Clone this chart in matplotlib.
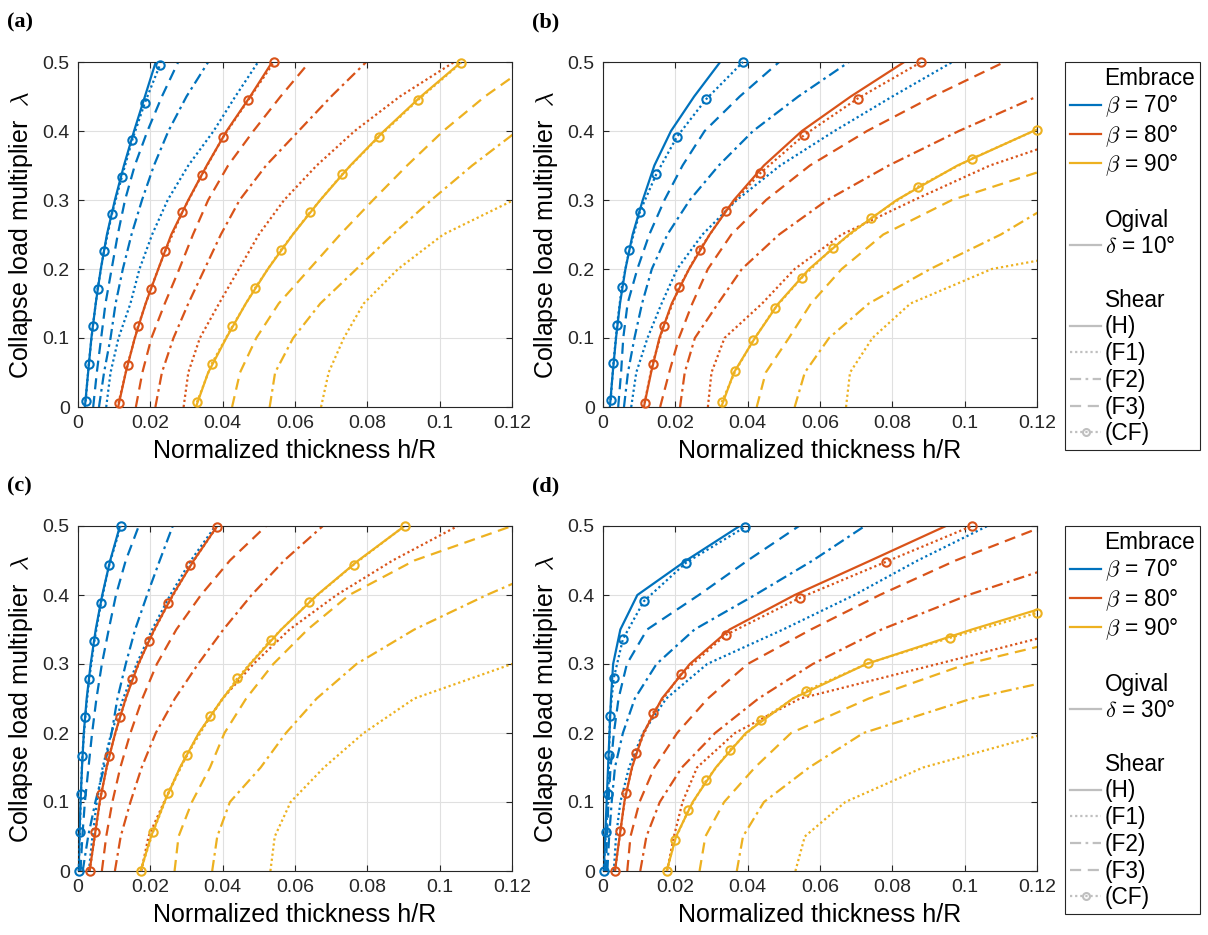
import numpy as np
import matplotlib
matplotlib.use("Agg")
import matplotlib.pyplot as plt
from matplotlib.lines import Line2D

plt.rcParams['font.family'] = ['Liberation Sans', 'DejaVu Sans']
plt.rcParams['mathtext.fontset'] = 'cm'

# load multiplier levels at which the curves were read
lam = [0, 0.05, 0.1, 0.15, 0.2, 0.25, 0.3, 0.35, 0.4, 0.45, 0.5]

colors = ['#0072BD', '#D95319', '#EDB120']
beta_labels = [r'$\beta$ = 70°', r'$\beta$ = 80°', r'$\beta$ = 90°']

# panel (a) : h/R for each beta (70, 80, 90) at the levels of lam
a_H = [[0.0019, 0.0028, 0.0037, 0.0049, 0.0063, 0.0080, 0.0102, 0.0127, 0.0155, 0.0185, 0.0215],
       [0.0111, 0.0132, 0.0157, 0.0187, 0.0222, 0.0258, 0.0305, 0.0356, 0.0411, 0.0476, 0.0537],
       [0.0326, 0.0360, 0.0410, 0.0464, 0.0525, 0.0594, 0.0670, 0.0753, 0.0846, 0.0948, 0.1060]]
a_F1 = [[0.0078, 0.0090, 0.0112, 0.0145, 0.0170, 0.0205, 0.0248, 0.0305, 0.0375, 0.0435, 0.0498],
        [0.0292, 0.0305, 0.0337, 0.0390, 0.0445, 0.0500, 0.0570, 0.0660, 0.0765, 0.0890, 0.1040],
        [0.0672, 0.0693, 0.0735, 0.0790, 0.0885, 0.1010, 0.1205, 0.145, 0.170, 0.200, 0.230]]
a_F2 = [[0.0058, 0.0072, 0.0090, 0.0104, 0.0124, 0.0148, 0.0177, 0.0210, 0.0250, 0.0300, 0.0360],
        [0.0214, 0.0232, 0.0264, 0.0305, 0.0350, 0.0395, 0.0447, 0.0520, 0.0610, 0.0700, 0.0797],
        [0.0530, 0.0545, 0.0595, 0.0670, 0.0770, 0.0870, 0.0977, 0.1090, 0.1215, 0.135, 0.149]]
a_F3 = [[0.0042, 0.0052, 0.0064, 0.0076, 0.0093, 0.0110, 0.0130, 0.0157, 0.0192, 0.0232, 0.0277],
        [0.0160, 0.0178, 0.0203, 0.0240, 0.0280, 0.0318, 0.0360, 0.0415, 0.0485, 0.0560, 0.0640],
        [0.0426, 0.0448, 0.0493, 0.0555, 0.0640, 0.0725, 0.0816, 0.0910, 0.1010, 0.1125, 0.1260]]
a_CFx = [[0.0021, 0.0030, 0.0041, 0.0054, 0.0072, 0.0094, 0.0121, 0.0150, 0.0185, 0.0226],
         [0.0112, 0.0137, 0.0166, 0.0201, 0.0241, 0.0288, 0.0342, 0.0401, 0.0471, 0.0542],
         [0.0329, 0.0370, 0.0427, 0.0489, 0.0560, 0.0641, 0.0730, 0.0831, 0.0940, 0.1060]]
a_CFy = [[0.008, 0.063, 0.117, 0.171, 0.226, 0.280, 0.333, 0.387, 0.441, 0.495],
         [0.006, 0.061, 0.117, 0.171, 0.226, 0.282, 0.336, 0.391, 0.445, 0.500],
         [0.007, 0.063, 0.117, 0.172, 0.227, 0.282, 0.337, 0.391, 0.445, 0.499]]

# panel (b)
b_H = [[0.0019, 0.0027, 0.0036, 0.0047, 0.0062, 0.0082, 0.0110, 0.0142, 0.0188, 0.0252, 0.0324],
       [0.0113, 0.0133, 0.0156, 0.0190, 0.0238, 0.0295, 0.0362, 0.0445, 0.0550, 0.0685, 0.0833],
       [0.0327, 0.0362, 0.0420, 0.0485, 0.0570, 0.0680, 0.0812, 0.0980, 0.1190, 0.1450, 0.1750]]
b_F1 = [[0.0078, 0.0092, 0.0123, 0.0162, 0.0205, 0.0275, 0.0370, 0.0490, 0.0640, 0.0800, 0.0966],
        [0.0290, 0.0300, 0.0336, 0.0440, 0.0530, 0.0660, 0.0860, 0.1070, 0.1350, 0.1650, 0.2000],
        [0.0672, 0.0683, 0.0745, 0.0850, 0.1075, 0.1600, 0.2100, 0.26, 0.31, 0.36, 0.41]]
b_F2 = [[0.0058, 0.0069, 0.0087, 0.0108, 0.0135, 0.0178, 0.0240, 0.0320, 0.0415, 0.0540, 0.0680],
        [0.0213, 0.0226, 0.0254, 0.0318, 0.0384, 0.0487, 0.0620, 0.0790, 0.0984, 0.1200, 0.1450],
        [0.0530, 0.0558, 0.0625, 0.0735, 0.0905, 0.1100, 0.1260, 0.16, 0.19, 0.22, 0.25]]
b_F3 = [[0.0042, 0.0050, 0.0056, 0.0068, 0.0095, 0.0128, 0.0170, 0.0220, 0.0281, 0.0378, 0.0487],
        [0.0158, 0.0183, 0.0210, 0.0247, 0.0290, 0.0355, 0.0451, 0.0572, 0.0730, 0.0912, 0.1110],
        [0.0425, 0.0450, 0.0514, 0.0575, 0.0660, 0.0775, 0.0965, 0.126, 0.16, 0.20, 0.24]]
b_CFx = [[0.0021, 0.0029, 0.0039, 0.0052, 0.0073, 0.0102, 0.0147, 0.0205, 0.0285, 0.0387],
         [0.0115, 0.0137, 0.0168, 0.0211, 0.0267, 0.0339, 0.0435, 0.0556, 0.0704, 0.0880],
         [0.0328, 0.0366, 0.0416, 0.0475, 0.0549, 0.0636, 0.0742, 0.0870, 0.1020, 0.1200]]
b_CFy = [[0.010, 0.064, 0.119, 0.174, 0.228, 0.283, 0.337, 0.392, 0.446, 0.500],
         [0.006, 0.063, 0.118, 0.174, 0.228, 0.284, 0.339, 0.394, 0.447, 0.500],
         [0.007, 0.052, 0.097, 0.143, 0.187, 0.231, 0.274, 0.319, 0.360, 0.402]]

# panel (c)
c_H = [[0.0002, 0.0004, 0.0007, 0.0011, 0.0016, 0.0024, 0.0035, 0.0049, 0.0067, 0.0089, 0.0116],
       [0.0032, 0.0046, 0.0060, 0.0079, 0.0103, 0.0132, 0.0167, 0.0211, 0.0262, 0.0320, 0.0385],
       [0.0173, 0.0202, 0.0239, 0.0282, 0.0334, 0.0400, 0.0476, 0.0562, 0.0661, 0.0775, 0.0903]]
c_F1 = [[0.0030, 0.0040, 0.0052, 0.0068, 0.0092, 0.0125, 0.0162, 0.0205, 0.0255, 0.0312, 0.0380],
        [0.0175, 0.0195, 0.0238, 0.0283, 0.0335, 0.0400, 0.0485, 0.0585, 0.0715, 0.0870, 0.1050],
        [0.0532, 0.0544, 0.0588, 0.0680, 0.0790, 0.0930, 0.1200, 0.150, 0.180, 0.210, 0.240]]
c_F2 = [[0.0013, 0.0028, 0.0048, 0.0072, 0.0093, 0.0109, 0.0132, 0.0158, 0.0191, 0.0226, 0.0262],
        [0.0102, 0.0118, 0.0145, 0.0176, 0.0215, 0.0268, 0.0332, 0.0402, 0.0480, 0.0570, 0.0677],
        [0.0371, 0.0385, 0.0420, 0.0505, 0.0575, 0.0660, 0.0770, 0.0930, 0.1130, 0.1350, 0.1570]]
c_F3 = [[0.0007, 0.0012, 0.0019, 0.0029, 0.0039, 0.0051, 0.0066, 0.0085, 0.0105, 0.0132, 0.0168],
        [0.0066, 0.0078, 0.0095, 0.0117, 0.0145, 0.0178, 0.0218, 0.0272, 0.0340, 0.0420, 0.0520],
        [0.0267, 0.0278, 0.0315, 0.0365, 0.0405, 0.0465, 0.0540, 0.0635, 0.0750, 0.0930, 0.1200]]
c_CFx = [[0.0002, 0.0005, 0.0008, 0.0012, 0.0020, 0.0031, 0.0045, 0.0064, 0.0086, 0.0118],
         [0.0032, 0.0048, 0.0064, 0.0086, 0.0116, 0.0150, 0.0195, 0.0250, 0.0311, 0.0384],
         [0.0173, 0.0207, 0.0250, 0.0301, 0.0366, 0.0440, 0.0533, 0.0640, 0.0762, 0.0903]]
c_CFy = [[0.0, 0.056, 0.112, 0.167, 0.223, 0.278, 0.333, 0.389, 0.443, 0.500],
         [0.0, 0.056, 0.112, 0.167, 0.223, 0.278, 0.333, 0.388, 0.443, 0.499],
         [0.0, 0.056, 0.113, 0.168, 0.224, 0.279, 0.335, 0.390, 0.444, 0.500]]

# panel (d)
d_H = [[0.0002, 0.0006, 0.0010, 0.0014, 0.0018, 0.0022, 0.0028, 0.0048, 0.0095, 0.0230, 0.0378],
       [0.0033, 0.0046, 0.0059, 0.0080, 0.0112, 0.0163, 0.0240, 0.0350, 0.0530, 0.0740, 0.0948],
       [0.0176, 0.0202, 0.0248, 0.0312, 0.0395, 0.0525, 0.0728, 0.1020, 0.1335, 0.1700, 0.2100]]
d_F1 = [[0.0030, 0.0036, 0.0048, 0.0072, 0.0110, 0.0175, 0.0288, 0.0498, 0.0695, 0.0870, 0.1063],
        [0.0177, 0.0196, 0.0220, 0.0260, 0.0365, 0.0545, 0.0925, 0.1300, 0.1750, 0.2200, 0.2700],
        [0.0532, 0.0558, 0.0670, 0.0885, 0.1230, 0.170, 0.220, 0.270, 0.320, 0.370, 0.420]]
d_F2 = [[0.0012, 0.0017, 0.0024, 0.0033, 0.0055, 0.0088, 0.0148, 0.0253, 0.0420, 0.0580, 0.0724],
        [0.0103, 0.0120, 0.0157, 0.0218, 0.0310, 0.0430, 0.0580, 0.0770, 0.1010, 0.1300, 0.1620],
        [0.0370, 0.0387, 0.0445, 0.0570, 0.0720, 0.1020, 0.1450, 0.19, 0.235, 0.28, 0.33]]
d_F3 = [[0.0008, 0.0011, 0.0015, 0.0021, 0.0030, 0.0043, 0.0066, 0.0122, 0.0265, 0.0400, 0.0542],
        [0.0067, 0.0076, 0.0101, 0.0142, 0.0205, 0.0290, 0.0400, 0.0575, 0.0765, 0.0975, 0.1220],
        [0.0267, 0.0283, 0.0335, 0.0420, 0.0520, 0.0735, 0.1005, 0.1400, 0.18, 0.22, 0.26]]
d_CFx = [[0.0002, 0.0008, 0.0015, 0.0017, 0.0019, 0.0030, 0.0055, 0.0113, 0.0230, 0.0394],
         [0.0033, 0.0048, 0.0063, 0.0091, 0.0138, 0.0215, 0.0339, 0.0545, 0.0782, 0.1020],
         [0.0176, 0.0199, 0.0236, 0.0286, 0.0350, 0.0436, 0.0560, 0.0733, 0.0960, 0.1200]]
d_CFy = [[0.0, 0.056, 0.112, 0.168, 0.225, 0.280, 0.336, 0.391, 0.447, 0.499],
         [0.0, 0.058, 0.113, 0.171, 0.229, 0.285, 0.342, 0.396, 0.448, 0.500],
         [0.0, 0.045, 0.088, 0.132, 0.175, 0.219, 0.261, 0.301, 0.338, 0.374]]

xticks = [0, 0.02, 0.04, 0.06, 0.08, 0.1, 0.12]
xticklabels = ['0', '0.02', '0.04', '0.06', '0.08', '0.1', '0.12']
yticks = [0, 0.1, 0.2, 0.3, 0.4, 0.5]
yticklabels = ['0', '0.1', '0.2', '0.3', '0.4', '0.5']

DOT = (0, (1, 1.3))
DASHDOT = (0, (5, 2, 1.2, 2))
DASH = (0, (5, 3))
LW = 1.6
DARK = '#262626'

W, H = 1208, 935
fig = plt.figure(figsize=(W / 100, H / 100), dpi=100)


def panel(left, top, curves, label):
    ax = fig.add_axes([left / W, 1 - (top + 345) / H, 434 / W, 345 / H])
    Hx, F1, F2, F3, cfx, cfy = curves
    for i, c in enumerate(colors):
        ax.plot(F1[i], lam, color=c, lw=LW, ls=DOT)
        ax.plot(F2[i], lam, color=c, lw=LW, ls=DASHDOT)
        ax.plot(F3[i], lam, color=c, lw=LW, ls=DASH)
        ax.plot(Hx[i], lam, color=c, lw=LW, ls='-')
        ax.plot(cfx[i], cfy[i], color=c, lw=LW, ls=DOT, marker='o', ms=6,
                mfc='none', mew=1.5, clip_on=False, zorder=3)
    ax.set_xlim(0, 0.12)
    ax.set_ylim(0, 0.5)
    ax.set_xticks(xticks)
    ax.set_xticklabels(xticklabels)
    ax.set_yticks(yticks)
    ax.set_yticklabels(yticklabels)
    ax.grid(True, color='#e0e0e0', lw=0.8)
    ax.set_axisbelow(True)
    ax.tick_params(direction='in', top=True, right=True, length=4, width=0.8,
                   colors=DARK, labelsize=14, pad=6)
    for s in ax.spines.values():
        s.set_color(DARK)
        s.set_linewidth(0.8)
    ax.set_xlabel('Normalized thickness h/R', fontsize=18, color='black')
    ax.set_ylabel(r'Collapse load multiplier  $\lambda$', fontsize=18, color='black')
    ax.xaxis.set_label_coords(0.5, -0.092)
    ax.yaxis.set_label_coords(-0.099, 0.5)
    fig.text((left - 71) / W, 1 - (top - 40) / H, label, fontsize=16,
             fontweight='bold', family='Liberation Serif', va='center')
    return ax


panel(78, 62, (a_H, a_F1, a_F2, a_F3, a_CFx, a_CFy), '(a)')
panel(603, 62, (b_H, b_F1, b_F2, b_F3, b_CFx, b_CFy), '(b)')
panel(78, 526, (c_H, c_F1, c_F2, c_F3, c_CFx, c_CFy), '(c)')
panel(603, 526, (d_H, d_F1, d_F2, d_F3, d_CFx, d_CFy), '(d)')


def legend(top, delta):
    gray = '#bfbfbf'
    blank = Line2D([], [], ls='none')
    handles = [blank]
    labels = ['Embrace']
    for c, l in zip(colors, beta_labels):
        handles.append(Line2D([], [], color=c, lw=LW))
        labels.append(l)
    handles += [blank, blank, Line2D([], [], color=gray, lw=LW), blank, blank]
    labels += [' ', 'Ogival', r'$\delta$ = %d°' % delta, ' ', 'Shear']
    handles += [Line2D([], [], color=gray, lw=LW),
                Line2D([], [], color=gray, lw=LW, ls=DOT),
                Line2D([], [], color=gray, lw=LW, ls=DASHDOT),
                Line2D([], [], color=gray, lw=LW, ls=DASH),
                Line2D([], [], color=gray, lw=LW, ls=DOT, marker='o', ms=5,
                       mfc='none', mew=1.5)]
    labels += ['(H)', '(F1)', '(F2)', '(F3)', '(CF)']
    leg = fig.legend(handles, labels, loc='upper left',
                     bbox_to_anchor=(1065 / W, 1 - top / H), fontsize=16.3,
                     frameon=True, fancybox=False, edgecolor=DARK, framealpha=1,
                     borderpad=0.22, handlelength=1.38, handletextpad=0.15,
                     labelspacing=0.165, borderaxespad=0)
    leg.get_frame().set_linewidth(0.8)


legend(62, 10)
legend(526, 30)

fig.savefig('out.png', dpi=100)
